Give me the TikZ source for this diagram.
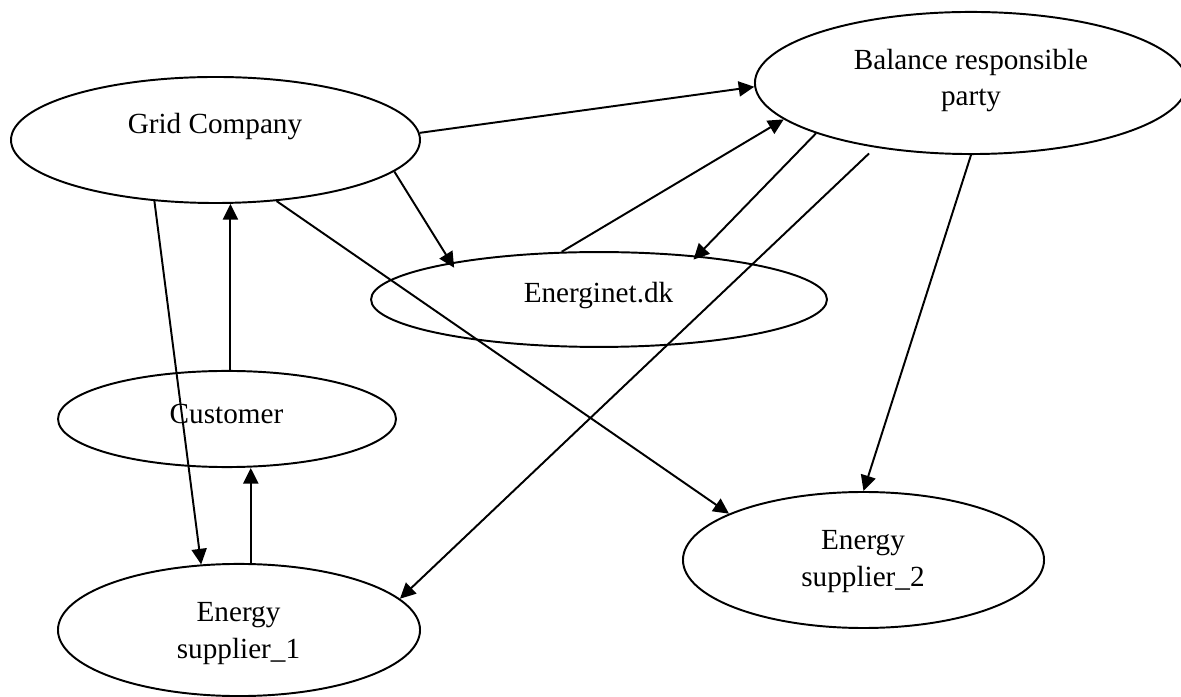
\documentclass[tikz,border=0pt]{standalone}
\usepackage{fontspec}
\setmainfont{Liberation Serif}
\usetikzlibrary{shapes,arrows.meta}

\begin{document}
\begin{tikzpicture}[x=0.411pt, y=-0.411pt,
    party/.style={draw, ellipse, line width=0.8pt, inner sep=0pt},
    txt/.style={anchor=base, align=center, inner sep=0pt, font=\fontsize{12pt}{14.8pt}\selectfont},
    flow/.style={line width=0.8pt, -{Triangle[length=6.4pt, width=6.2pt]}}]
    \useasboundingbox (0,0) rectangle (1181,697);

    % the parties
    \node[party, minimum width=168.1pt, minimum height=51.8pt] (grid) at (215.5,140) {};
    \node[party, minimum width=177.6pt, minimum height=58.4pt] (brp) at (971,83) {};
    \node[party, minimum width=187.4pt, minimum height=39.0pt] (ener) at (599,299.5) {};
    \node[party, minimum width=138.9pt, minimum height=39.5pt] (cust) at (227,419) {};
    \node[party, minimum width=148.8pt, minimum height=54.3pt] (supp1) at (239,630) {};
    \node[party, minimum width=148.4pt, minimum height=55.9pt] (supp2) at (863.5,560) {};

    % names (base = last line)
    \node[txt] (gridtxt) at (215,134) {Grid Company};
    \node[txt] (brptxt) at (971,106) {Balance responsible\\party};
    \node[txt] (enertxt) at (598.5,303) {Energinet.dk};
    \node[txt] (custtxt) at (226.5,424) {Customer};
    \node[txt] (supp1txt) at (238.5,658) {Energy\\supplier\_1};
    \node[txt] (supp2txt) at (863,586) {Energy\\supplier\_2};

    % information flows
    \draw[flow] (grid.2) -- (brp.181);
    \draw[flow, shorten >=-2.5pt] (grid.-10.5) -- (ener.166);
    \draw[flow] (grid.-45) -- (supp2.161);
    \draw[flow] (grid.-135) -- (supp1.120);
    \draw[flow] (cust.86) -- (cust.86 |- grid.south);
    \draw[flow] (supp1.80) -- (supp1.80 |- cust.south);
    \draw[flow] (ener.128) -- (brp.191);
    \draw[flow, shorten >=-2.2pt] (brp.198.5) -- (ener.24.6);
    \draw[flow, shorten <=3.5pt] (brp.214.6) -- (supp1.11);
    \draw[flow] (brp.south) -- (supp2.north);
\end{tikzpicture}
\end{document}
